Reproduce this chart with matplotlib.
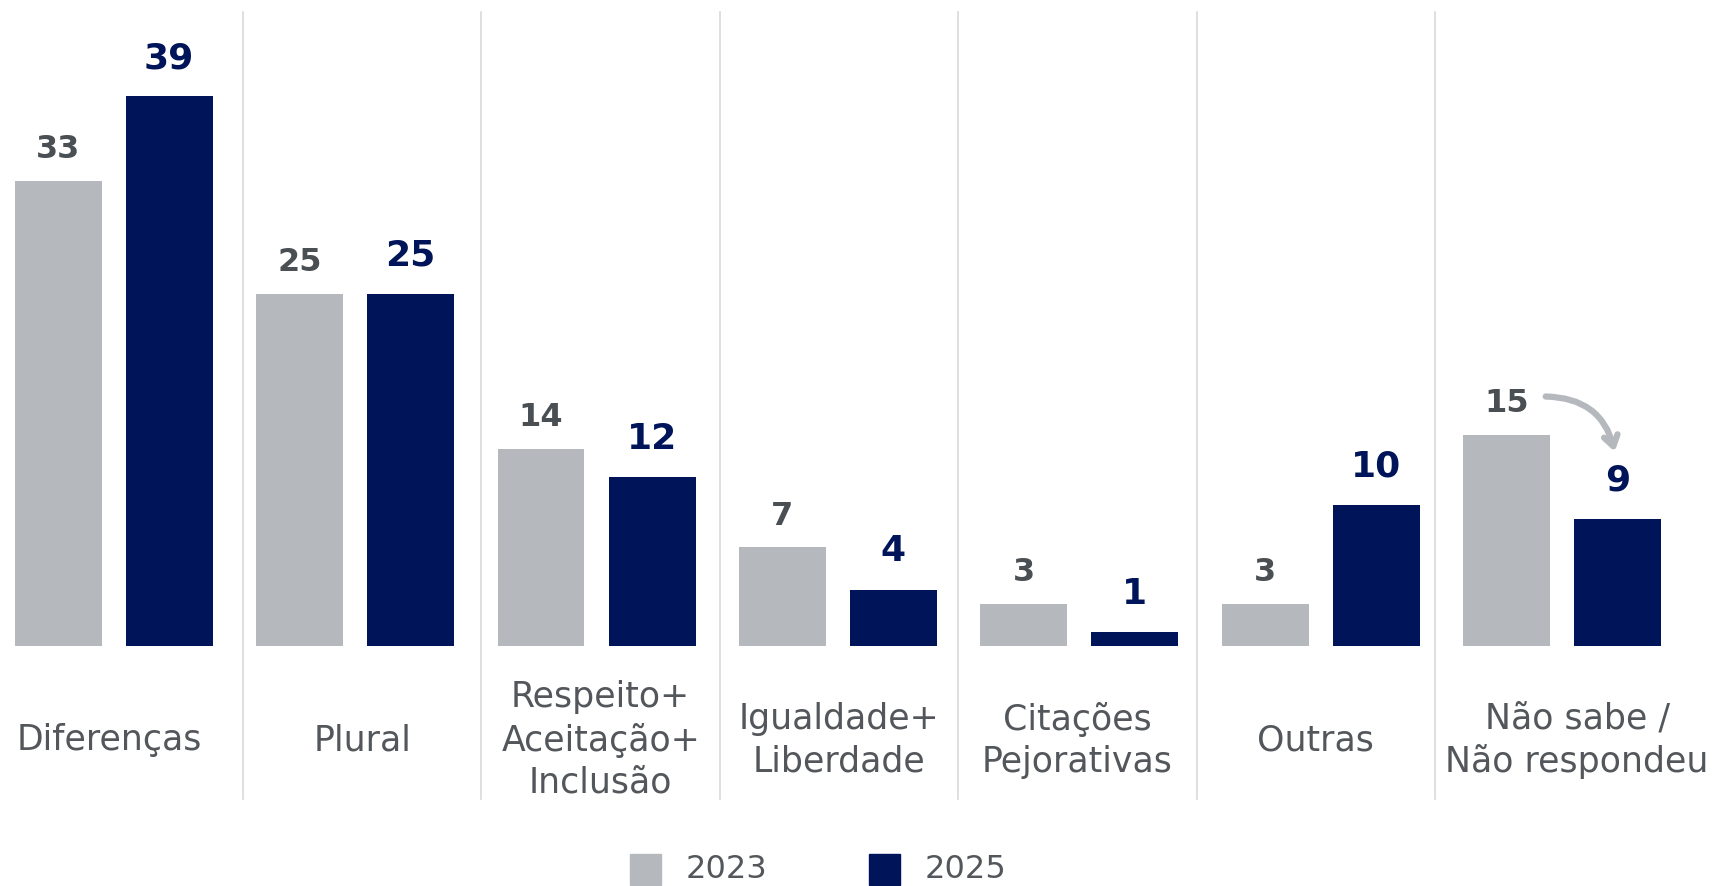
import matplotlib
matplotlib.use("Agg")
import matplotlib.pyplot as plt
from matplotlib.patches import Rectangle
import numpy as np

# Survey answers, percent of respondents
categories = [
    "Diferenças",
    "Plural",
    "Respeito+\nAceitação+\nInclusão",
    "Igualdade+\nLiberdade",
    "Citações\nPejorativas",
    "Outras",
    "Não sabe /\nNão respondeu",
]
values_2023 = [33, 25, 14, 7, 3, 3, 15]
values_2025 = [39, 25, 12, 4, 1, 10, 9]
series_names = ["2023", "2025"]

GRAY = "#b5b8bc"
NAVY = "#00145a"
TEXT_GRAY = "#4a4f54"
LABEL_GRAY = "#53575b"
DIVIDER = "#d9d9d9"

W, H, DPI = 1716, 886, 100
plt.rcParams["font.family"] = ["DejaVu Sans"]

fig = plt.figure(figsize=(W / DPI, H / DPI), dpi=DPI)
ax = fig.add_axes([0, 0, 1, 1])
ax.set_xlim(-0.471, 6.637)
ax.set_ylim(-17.02, 45.82)
ax.axis("off")

x = np.arange(len(categories))
offset = 0.23
width = 0.36

ax.bar(x - offset, values_2023, width, color=GRAY, zorder=2)
ax.bar(x + offset, values_2025, width, color=NAVY, zorder=2)

for xi, v in zip(x, values_2023):
    ax.text(xi - offset, v + 1.1, f"{v}", ha="center", va="bottom",
            fontsize=23, fontweight="bold", color=TEXT_GRAY)
for xi, v in zip(x, values_2025):
    ax.text(xi + offset, v + 1.5, f"{v}", ha="center", va="bottom",
            fontsize=26, fontweight="bold", color=NAVY)

# thin separators between the answer groups; the outer bounds only
# serve to centre the category names
bounds = np.linspace(-0.570, 6.651, len(categories) + 1)
bounds[1:-1] = np.linspace(0.536, 5.473, len(categories) - 1)
for b in bounds[1:-1]:
    ax.plot([b, b], [-10.85, 45.0], color=DIVIDER, lw=1.2, zorder=1)

for left, right, name in zip(bounds[:-1], bounds[1:], categories):
    ax.text((left + right) / 2, -6.67, name, ha="center", va="center",
            fontsize=25, color=LABEL_GRAY, linespacing=1.3)

# curved arrow showing the drop in "Não sabe"
last = len(categories) - 1
ax.annotate(
    "",
    xy=(last + offset - 0.01, values_2025[last] + 4.6),
    xytext=(last - offset + 0.15, values_2023[last] + 2.7),
    arrowprops=dict(arrowstyle="->,head_length=0.75,head_width=0.5",
                    connectionstyle="arc3,rad=-0.4", color=GRAY, lw=4.5,
                    capstyle="round"),
)

# legend along the bottom edge
for px, color, name in [(630, GRAY, series_names[0]),
                        (869, NAVY, series_names[1])]:
    fig.patches.append(Rectangle((px / W, 1 / H), 31 / W, 31 / H,
                                 transform=fig.transFigure, color=color))
    fig.text((px + 56) / W, 1 / H, name, ha="left", va="bottom",
             fontsize=23, color=LABEL_GRAY)

fig.savefig("out.png", dpi=DPI)
